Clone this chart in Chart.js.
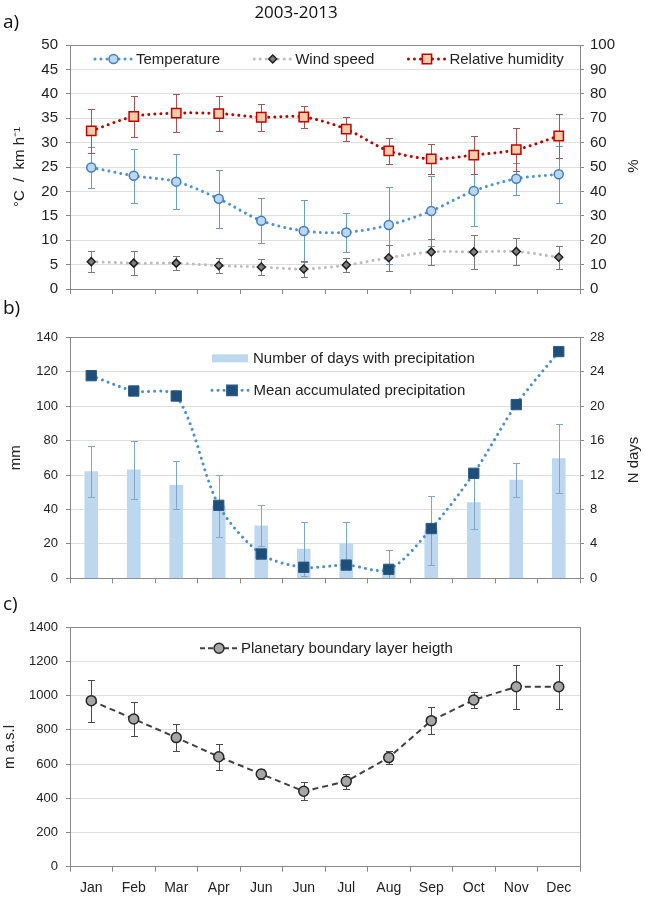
<!DOCTYPE html>
<html lang="en">
<head>
<meta charset="UTF-8">
<title>2003-2013</title>
<script src="https://cdn.jsdelivr.net/npm/chart.js@4.4.1/dist/chart.umd.min.js"></script>
<style>
  body { margin: 0; background: #fff; }
  #wrap { position: relative; width: 645px; height: 900px; overflow: hidden; }
  canvas { position: absolute; left: 0; }
  .tag { position: absolute; left: 3px; font-family: 'Open Sans', sans-serif; font-size: 19px; line-height: 1; color: #111; transform: translateY(-50%); }
  #title { position: absolute; left: 296px; top: 11px; transform: translate(-50%, -50%); font-family: 'Open Sans', sans-serif; font-size: 17px; color: #111; white-space: nowrap; }
  .rtitle { position: absolute; font-family: 'Liberation Sans', Arial, sans-serif; font-size: 15px; color: #222; white-space: nowrap; transform: translate(-50%, -50%) rotate(-90deg); }
</style>
</head>
<body>
<div id="wrap">
  <canvas id="chartA" width="645" height="306" style="top:0"></canvas>
  <canvas id="chartB" width="645" height="300" style="top:300px"></canvas>
  <canvas id="chartC" width="645" height="300" style="top:600px"></canvas>
  <div class="tag" style="top:21px">a)</div>
  <div id="title">2003-2013</div>
  <div class="tag" style="top:307px">b)</div>
  <div class="tag" style="top:603px">c)</div>
  <div class="rtitle" style="left:632px; top:166px">%</div>
  <div class="rtitle" style="left:632px; top:460px">N days</div>
</div>
<script>
// months as labelled in the figure
const months = ['Jan', 'Feb', 'Mar', 'Apr', 'Jun', 'Jun', 'Jul', 'Aug', 'Sep', 'Oct', 'Nov', 'Dec'];

// panel a
const temperature = [24.9, 23.2, 22.0, 18.5, 14.0, 11.9, 11.6, 13.1, 16.0, 20.1, 22.6, 23.5];
const temperatureErr = [4.3, 5.5, 5.6, 5.9, 4.6, 6.3, 4.0, 7.9, 7.2, 7.2, 3.3, 5.8];
const windSpeed = [5.6, 5.3, 5.3, 4.8, 4.5, 4.1, 4.9, 6.4, 7.6, 7.6, 7.7, 6.5];
const windSpeedErr = [2.1, 2.5, 1.4, 1.6, 1.6, 1.6, 1.4, 2.7, 2.6, 3.4, 2.7, 2.4];
const humidity = [64.8, 70.7, 72.1, 71.9, 70.4, 70.5, 65.5, 56.6, 53.3, 54.9, 57.1, 62.7];
const humidityErr = [9.0, 8.3, 7.8, 7.2, 5.5, 4.6, 5.0, 5.3, 6.1, 7.8, 8.9, 9.2];

// panel b
const precipitation = [117.7, 108.8, 105.9, 42.4, 14.1, 6.4, 7.7, 5.2, 28.9, 61.0, 100.9, 131.7];
const rainDays = [12.4, 12.6, 10.8, 8.4, 6.1, 3.4, 4.0, 1.2, 5.6, 8.8, 11.4, 13.9];
const rainDaysErr = [3.0, 3.4, 2.8, 3.6, 2.4, 3.1, 2.5, 2.1, 4.0, 3.1, 2.0, 4.0];

// panel c
const pblHeight = [971, 864, 755, 643, 542, 441, 499, 638, 854, 975, 1052, 1052];
const pblHeightErr = [122, 98, 80, 76, 30, 53, 44, 39, 79, 48, 127, 128];

Chart.defaults.font.family = "'Liberation Sans', Arial, sans-serif";
Chart.defaults.color = '#222';
Chart.defaults.animation = false;

const AXIS = '#898989';
const GRID = '#dedede';

function drawMarker(ctx, style, x, y, r, fill, stroke, lw) {
    ctx.beginPath();
    if (style === 'circle') {
        ctx.arc(x, y, r, 0, Math.PI * 2);
    } else if (style === 'rect') {
        const s = r * Math.SQRT1_2;
        ctx.rect(x - s, y - s, 2 * s, 2 * s);
    } else if (style === 'rectRot') {
        ctx.moveTo(x - r, y); ctx.lineTo(x, y - r); ctx.lineTo(x + r, y); ctx.lineTo(x, y + r);
        ctx.closePath();
    }
    ctx.fillStyle = fill;
    ctx.fill();
    ctx.lineWidth = lw;
    ctx.strokeStyle = stroke;
    ctx.stroke();
}

function drawErrorSet(chart, set) {
    const meta = chart.getDatasetMeta(set.index);
    const yScale = chart.scales[meta.yAxisID];
    const values = chart.data.datasets[set.index].data;
    const area = chart.chartArea;
    const ctx = chart.ctx;
    const cap = 3.5;
    ctx.save();
    ctx.strokeStyle = set.color;
    ctx.lineWidth = 1;
    meta.data.forEach((el, i) => {
        const x = Math.round(el.x) + 0.5;
        const top = Math.round(yScale.getPixelForValue(values[i] + set.err[i])) + 0.5;
        let bot = Math.round(yScale.getPixelForValue(values[i] - set.err[i])) + 0.5;
        const clipped = bot > area.bottom;
        if (clipped) bot = area.bottom;
        ctx.beginPath();
        ctx.moveTo(x, top); ctx.lineTo(x, bot);
        ctx.moveTo(x - cap, top); ctx.lineTo(x + cap, top);
        if (!clipped) { ctx.moveTo(x - cap, bot); ctx.lineTo(x + cap, bot); }
        ctx.stroke();
    });
    ctx.restore();
}

const errorBars = {
    id: 'errorBars',
    beforeDatasetsDraw(chart, args, opts) {
        (opts.sets || []).filter(s => !s.afterIndex).forEach(s => drawErrorSet(chart, s));
    },
    afterDatasetDraw(chart, args, opts) {
        (opts.sets || []).filter(s => s.afterIndex && s.index === args.index).forEach(s => drawErrorSet(chart, s));
    }
};

// legend drawn inside the plot area, like the original
const innerLegend = {
    id: 'innerLegend',
    afterDraw(chart, args, opts) {
        if (!opts.items) return;
        const ctx = chart.ctx;
        const area = chart.chartArea;
        let x = area.left + opts.x;
        let y = area.top + opts.y;
        ctx.save();
        ctx.font = '15px ' + Chart.defaults.font.family;
        ctx.textBaseline = 'middle';
        opts.items.forEach(it => {
            const len = it.length;
            if (it.kind === 'box') {
                ctx.fillStyle = it.fill;
                ctx.fillRect(x, y - 4, len, 8);
            } else {
                ctx.save();
                ctx.strokeStyle = it.color;
                ctx.lineWidth = it.width;
                ctx.lineCap = it.cap || 'butt';
                ctx.setLineDash(it.dash);
                ctx.beginPath();
                ctx.moveTo(x, y); ctx.lineTo(x + len, y);
                ctx.stroke();
                ctx.restore();
                drawMarker(ctx, it.pointStyle, x + len / 2, y, it.radius, it.fill, it.stroke, 1.5);
            }
            ctx.fillStyle = '#222';
            ctx.fillText(it.label, x + len + it.gap, y + 1);
            if (opts.direction === 'row') {
                x += len + it.gap + ctx.measureText(it.label).width + opts.spacing;
            } else {
                y += opts.spacing;
            }
        });
        ctx.restore();
    }
};

function xAxis(height, showLabels) {
    return {
        offset: true,
        grid: { offset: true, drawOnChartArea: false, drawTicks: true, tickLength: 5, tickColor: AXIS },
        border: { color: AXIS },
        ticks: { display: showLabels, font: { size: 14 }, padding: 8, color: '#222', maxRotation: 0, autoSkip: false },
        afterFit: s => { s.height = height; }
    };
}

function yAxis(max, step, fontSize, title, titlePad) {
    return {
        type: 'linear', position: 'left', min: 0, max: max,
        ticks: { stepSize: step, font: { size: fontSize }, padding: 8, color: '#222', callback: v => String(v) },
        grid: { color: c => (c.tick.value === 0 || c.tick.value === max) ? AXIS : GRID, tickColor: AXIS, tickLength: 4 },
        border: { color: AXIS },
        title: { display: true, text: title, font: { size: 15 }, color: '#222', padding: { top: titlePad, bottom: 0 } },
        afterFit: s => { s.width = 70; }
    };
}

function yRight(max, step, fontSize, show) {
    return {
        type: 'linear', position: 'right', min: 0, max: max,
        ticks: { display: show, stepSize: step, font: { size: fontSize }, padding: 6, color: '#222', callback: v => String(v) },
        grid: { drawOnChartArea: false, drawTicks: show, tickColor: AXIS, tickLength: 4 },
        border: { color: AXIS },
        afterFit: s => { s.width = 65; }
    };
}

const roundDots = { borderWidth: 3, borderDash: [0.01, 6], borderCapStyle: 'round' };

new Chart(document.getElementById('chartA'), {
    type: 'line',
    data: {
        labels: months,
        datasets: [
            Object.assign({
                label: 'Temperature', data: temperature, yAxisID: 'y', borderColor: '#4f93d2',
                pointStyle: 'circle', pointRadius: 4.5, pointBackgroundColor: '#bdd7ee',
                pointBorderColor: '#3f7fbf', pointBorderWidth: 1.5, tension: 0.3
            }, roundDots),
            Object.assign({
                label: 'Wind speed', data: windSpeed, yAxisID: 'y', borderColor: '#bdbdbd',
                pointStyle: 'rectRot', pointRadius: 4, pointBackgroundColor: '#7f7f7f',
                pointBorderColor: '#1e1e1e', pointBorderWidth: 1.5, tension: 0.3
            }, roundDots),
            Object.assign({
                label: 'Relative humidity', data: humidity, yAxisID: 'y1', borderColor: '#c00000',
                pointStyle: 'rect', pointRadius: 6.6, pointBackgroundColor: '#f8cbad',
                pointBorderColor: '#c00000', pointBorderWidth: 1.5, tension: 0.3
            }, roundDots)
        ]
    },
    options: {
        responsive: false,
        layout: { padding: { top: 45, bottom: 0, left: 0, right: 0 } },
        scales: {
            x: xAxis(12, false),
            y: yAxis(50, 5, 15, '°C  /  km h⁻¹', 11),
            y1: yRight(100, 10, 15, true)
        },
        plugins: {
            legend: { display: false },
            tooltip: { enabled: false },
            errorBars: { sets: [
                { index: 0, err: temperatureErr, color: '#6f9db6' },
                { index: 1, err: windSpeedErr, color: '#7a7a7a' },
                { index: 2, err: humidityErr, color: '#a65454' }
            ] },
            innerLegend: {
                direction: 'row', x: 25, y: 14, spacing: 34,
                items: [
                    { kind: 'line', label: 'Temperature', length: 37, gap: 4, color: '#4f93d2', width: 3, cap: 'round', dash: [0.01, 6], pointStyle: 'circle', radius: 4.5, fill: '#bdd7ee', stroke: '#3f7fbf' },
                    { kind: 'line', label: 'Wind speed', length: 37, gap: 4, color: '#bdbdbd', width: 3, cap: 'round', dash: [0.01, 6], pointStyle: 'rectRot', radius: 4, fill: '#7f7f7f', stroke: '#1e1e1e' },
                    { kind: 'line', label: 'Relative humidity', length: 37, gap: 4, color: '#c00000', width: 3, cap: 'round', dash: [0.01, 6], pointStyle: 'rect', radius: 6.6, fill: '#f8cbad', stroke: '#c00000' }
                ]
            }
        }
    },
    plugins: [errorBars, innerLegend]
});

new Chart(document.getElementById('chartB'), {
    type: 'bar',
    data: {
        labels: months,
        datasets: [
            Object.assign({
                type: 'line', label: 'Mean accumulated precipitation', data: precipitation, yAxisID: 'y',
                borderColor: '#4a8fcc', pointStyle: 'rect', pointRadius: 7.3, pointBackgroundColor: '#1f4e79',
                pointBorderColor: '#2a5a86', pointBorderWidth: 1, tension: 0.3, order: 0
            }, roundDots),
            {
                type: 'bar', label: 'Number of days with precipitation', data: rainDays, yAxisID: 'y1',
                backgroundColor: '#bdd7ee', barThickness: 13, order: 1
            }
        ]
    },
    options: {
        responsive: false,
        layout: { padding: { top: 37.3, bottom: 0, left: 0, right: 0 } },
        scales: {
            x: xAxis(21.7, false),
            y: yAxis(140, 20, 13, 'mm', 7),
            y1: yRight(28, 4, 13, true)
        },
        plugins: {
            legend: { display: false },
            tooltip: { enabled: false },
            errorBars: { sets: [
                { index: 1, err: rainDaysErr, color: '#7fa8c8', afterIndex: true }
            ] },
            innerLegend: {
                direction: 'column', x: 142, y: 21, spacing: 32,
                items: [
                    { kind: 'box', label: 'Number of days with precipitation', length: 36, gap: 5, fill: '#bdd7ee' },
                    { kind: 'line', label: 'Mean accumulated precipitation', length: 40, gap: 1.5, color: '#4a8fcc', width: 3, cap: 'round', dash: [0.01, 6], pointStyle: 'rect', radius: 7.3, fill: '#1f4e79', stroke: '#2a5a86' }
                ]
            }
        }
    },
    plugins: [errorBars, innerLegend]
});

new Chart(document.getElementById('chartC'), {
    type: 'line',
    data: {
        labels: months,
        datasets: [{
            label: 'Planetary boundary layer heigth', data: pblHeight, yAxisID: 'y',
            borderColor: '#404040', borderWidth: 2, borderDash: [6, 4], tension: 0,
            pointStyle: 'circle', pointRadius: 5, pointBackgroundColor: '#a6a6a6',
            pointBorderColor: '#262626', pointBorderWidth: 1.5
        }]
    },
    options: {
        responsive: false,
        layout: { padding: { top: 27.3, bottom: 0, left: 0, right: 0 } },
        scales: {
            x: xAxis(33.3, true),
            y: yAxis(1400, 200, 13, 'm a.s.l', 1),
            y1: yRight(1400, 200, 13, false)
        },
        plugins: {
            legend: { display: false },
            tooltip: { enabled: false },
            errorBars: { sets: [
                { index: 0, err: pblHeightErr, color: '#4a4a4a' }
            ] },
            innerLegend: {
                direction: 'row', x: 130, y: 21, spacing: 30,
                items: [
                    { kind: 'line', label: 'Planetary boundary layer heigth', length: 38, gap: 3, color: '#404040', width: 2, dash: [5, 3], pointStyle: 'circle', radius: 5, fill: '#a6a6a6', stroke: '#262626' }
                ]
            }
        }
    },
    plugins: [errorBars, innerLegend]
});
</script>
</body>
</html>
